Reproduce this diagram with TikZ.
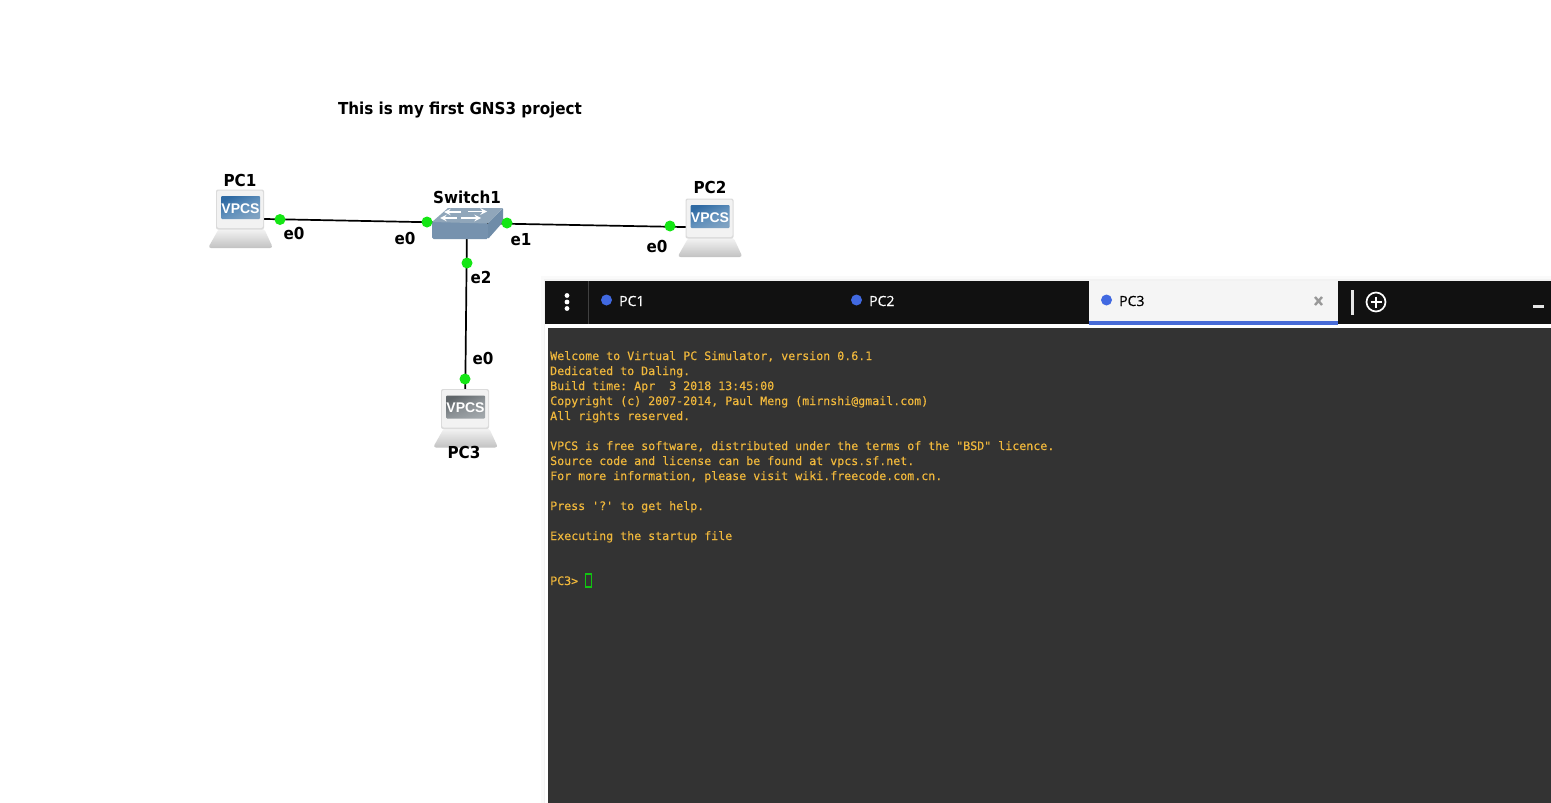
\documentclass[tikz,border=0pt]{standalone}
\usepackage{fontspec}
\setmainfont{DejaVu Sans}
\setmonofont[RawFeature={embolden=0.35}]{DejaVu Sans Mono}
\newfontfamily\tabfont[RawFeature={embolden=0.5}]{Open Sans}
\usetikzlibrary{calc}
\definecolor{termbg}{HTML}{333333}
\definecolor{termfg}{HTML}{F0B83C}
\definecolor{barbg}{HTML}{111111}
\definecolor{tabblue}{HTML}{4169E1}
\definecolor{portgreen}{HTML}{14E614}
\definecolor{scrbluetop}{HTML}{2F6AA3}
\definecolor{scrbluemid}{HTML}{5F8FBB}
\definecolor{scrbluebot}{HTML}{7FA2C2}
\definecolor{scrgraytop}{HTML}{5F6569}
\definecolor{scrgraymid}{HTML}{8A9094}
\definecolor{scrgraybot}{HTML}{A0A6AA}
\definecolor{swfront}{HTML}{7692AE}
\definecolor{swside}{HTML}{6F8CA8}
\definecolor{swtop}{HTML}{90A6BA}
\tikzset{
  x=1pt,y=-1pt,
  anchorbox/.style={inner sep=0pt,minimum width=40pt,minimum height=40pt},
  devlabel/.style={font=\bfseries\fontsize{16.5}{20}\selectfont,inner sep=0pt,text=black,xscale=0.92},
  portlabel/.style={font=\bfseries\fontsize{16.5}{20}\selectfont,inner sep=0pt,text=black,xscale=0.92},
  port/.style={circle,fill=portgreen,inner sep=0pt,minimum size=11pt},
  link/.style={draw=black,line width=1.7pt},
  termline/.style={font=\ttfamily\fontsize{11.63}{14}\selectfont,text=termfg,inner sep=0pt,anchor=base west},
  tabtext/.style={font=\tabfont\fontsize{14}{17}\selectfont,inner sep=0pt,anchor=west},
  tabdot/.style={circle,fill=tabblue,inner sep=0pt,minimum size=11pt},
  swarrow/.style={draw=white,line width=1.9pt,-stealth},
}
\newcommand{\pcicon}[4]{%
  \begin{scope}[shift={(#1.center)}]
    \path[top color=black!4,bottom color=black!24,rounded corners=3pt]
      (-21,10) -- (24,10) -- (33,29.5) -- (-32,29.5) -- cycle;
    \fill[black!14,rounded corners=2pt] (-24,-29) rectangle (24,11);
    \fill[black!5,rounded corners=2pt] (-23,-28) rectangle (23,9.5);
    \shade[shading=axis,left color=#2,right color=#4,middle color=#3,shading angle=25,rounded corners=1pt] (-19,-22.5) rectangle (20,0.5);
    \node[font=\bfseries\fontsize{14}{15}\selectfont,text=white,inner sep=0pt] at (0.5,-10) {\fontspec{Liberation Sans}VPCS};
  \end{scope}}
\begin{document}
\begin{tikzpicture}
\useasboundingbox (0,0) rectangle (1551,803);
\fill[white] (0,0) rectangle (1551,803);

% title
\node[font=\bfseries\fontsize{16.5}{20}\selectfont,inner sep=0pt,xscale=0.92] (title) at (460,110.5) {This is my first GNS3 project};

% anchors for the devices
\node[anchorbox] (pc1) at (240,218.5) {};
\node[anchorbox] (pc2) at (709.5,227.5) {};
\node[anchorbox] (pc3) at (465,418) {};
\node[anchorbox] (sw) at (467,223) {};

% links
\draw[link] (pc1.center) -- (sw.center);
\draw[link] (sw.center) -- (pc2.center);
\draw[link] (sw.center) -- (pc3.center);

% icons
\pcicon{pc1}{scrbluetop}{scrbluemid}{scrbluebot}
\pcicon{pc2}{scrbluetop}{scrbluemid}{scrbluebot}
\pcicon{pc3}{scrgraytop}{scrgraymid}{scrgraybot}

% switch
\begin{scope}[shift={(sw.center)}]
  \fill[swfront,rounded corners=1.5pt] (-35,-2) -- (21,0) -- (21,16) -- (-35,16) -- cycle;
  \fill[swside,rounded corners=1pt] (21,0) -- (36,-15) -- (36,-1) -- (21,16) -- cycle;
  \fill[swtop] (-35,-1) -- (-19,-15) -- (36,-15) -- (21,0.5) -- cycle;
  \draw[swarrow] (-6,-11) -- (-23,-11);
  \draw[swarrow] (1,-11.5) -- (20,-11.5);
  \draw[swarrow] (-10,-5) -- (-27,-5);
  \draw[swarrow] (-6,-5) -- (14,-5);
\end{scope}

% ports
\node[port] (p1) at (280,219.5) {};
\node[port] (p2) at (427,222) {};
\node[port] (p3) at (507,223) {};
\node[port] (p4) at (670,226) {};
\node[port] (p5) at (467,263) {};
\node[port] (p6) at (465,379) {};

% labels
\node[devlabel] (l1) at (240,180.5) {PC1};
\node[devlabel] (l2) at (710,187.5) {PC2};
\node[devlabel] (l3) at (464,452.5) {PC3};
\node[devlabel] (l4) at (467,197.5) {Switch1};
\node[portlabel] (e1) at (294,233.5) {e0};
\node[portlabel] (e2) at (405,238.5) {e0};
\node[portlabel] (e3) at (521,239.5) {e1};
\node[portlabel] (e4) at (657,246.5) {e0};
\node[portlabel] (e5) at (481,277.5) {e2};
\node[portlabel] (e6) at (483,358.5) {e0};

% terminal window
\fill[black!2] (541,276) rectangle (1551,803);
\fill[black!5] (544,279) rectangle (1551,803);
\fill[white] (545,324) rectangle (1551,803);
\fill[barbg] (545,281) rectangle (1551,324);
\fill[termbg] (548,328) rectangle (1551,803);
\draw[black!75,line width=.8pt] (588.5,281) -- (588.5,324);
\fill[white] (567,295.5) circle (2.4) (567,302) circle (2.4) (567,308.5) circle (2.4);

\node[tabdot] (d1) at (606.5,300) {};
\node[tabtext,text=white] (t1) at (619,301) {PC1};
\node[tabdot] (d2) at (856.5,300) {};
\node[tabtext,text=white] (t2) at (869,301) {PC2};
\fill[black!4] (1089,281) rectangle (1338,321);
\fill[tabblue!90!gray] (1089,321) rectangle (1338,325);
\node[tabdot] (d3) at (1106.5,300) {};
\node[tabtext,text=black] (t3) at (1119,301) {PC3};
\draw[black!40,line width=2.4pt] (1315,297) -- (1322,305) (1322,297) -- (1315,305);
\draw[white!90!black,line width=2.6pt] (1352.5,290) -- (1352.5,315);
\draw[white,line width=1.7pt] (1376,302) circle (9.5);
\draw[white,line width=2.2pt] (1370.5,302) -- (1381.5,302) (1376,296.5) -- (1376,307.5);
\draw[white!90!black,line width=2.4pt] (1533,306.5) -- (1544,306.5);

% terminal text
\node[termline] (a1) at (550,360) {Welcome to Virtual PC Simulator, version 0.6.1};
\node[termline] (a2) at (550,375) {Dedicated to Daling.};
\node[termline] (a3) at (550,390) {Build time: Apr\ \ 3 2018 13:45:00};
\node[termline] (a4) at (550,405) {Copyright (c) 2007-2014, Paul Meng (mirnshi@gmail.com)};
\node[termline] (a5) at (550,420) {All rights reserved.};
\node[termline] (a6) at (550,450) {VPCS is free software, distributed under the terms of the "BSD" licence.};
\node[termline] (a7) at (550,465) {Source code and license can be found at vpcs.sf.net.};
\node[termline] (a8) at (550,480) {For more information, please visit wiki.freecode.com.cn.};
\node[termline] (a9) at (550,510) {Press '?' to get help.};
\node[termline] (a10) at (550,540) {Executing the startup file};
\node[termline] (a11) at (550,585) {PC3>};
\draw[portgreen!85!black,line width=1.2pt] (585.5,574) rectangle (591.5,587);
\end{tikzpicture}
\end{document}
